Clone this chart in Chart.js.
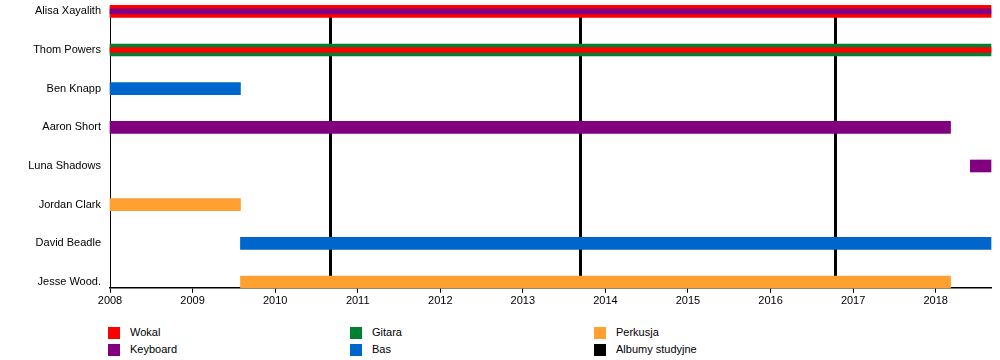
<!DOCTYPE html>
<html>
<head>
<meta charset="utf-8">
<script src="https://cdn.jsdelivr.net/npm/chart.js@4"></script>
<style>
  body { margin:0; background:#fff; font-family:"Liberation Sans", Arial, sans-serif; }
  #wrap { position:relative; width:1000px; height:360px; }
  #chart-box { position:absolute; left:0; top:0; width:1000px; height:310px; }
  .legend { position:absolute; font-size:11px; color:#000; }
  .legend span.sw { position:absolute; left:0; top:0; width:12px; height:12px; }
  .legend span.tx { position:absolute; left:22px; top:-1px; white-space:nowrap; }
</style>
</head>
<body>
<div id="wrap">
  <div id="chart-box"><canvas id="timeline"></canvas></div>
  <div id="legend"></div>
</div>
<script>
// members, top to bottom
const members = ['Alisa Xayalith','Thom Powers','Ben Knapp','Aaron Short','Luna Shadows','Jordan Clark','David Beadle','Jesse Wood.'];
const years = [2008,2009,2010,2011,2012,2013,2014,2015,2016,2017,2018];
const start = 2008, end = 2018.67;

// role spans as [member, from, to]
const wokal    = [['Alisa Xayalith', start, end]];
const gitara   = [['Thom Powers', start, end]];
const wokalTP  = [['Thom Powers', start, end]];
const keyboard = [['Aaron Short', start, 2018.18], ['Luna Shadows', 2018.42, end]];
const keyAX    = [['Alisa Xayalith', start, end]];
const bas      = [['Ben Knapp', start, 2009.58], ['David Beadle', 2009.58, end]];
const perkusja = [['Jordan Clark', start, 2009.58], ['Jesse Wood.', 2009.58, 2018.18]];
const albums   = [2010.67, 2013.69, 2016.78];

const roleLabels = ['Wokal','Gitara','Perkusja','Keyboard','Bas','Albumy studyjne'];
const roleColors = ['#ff0000','#008033','#ffa030','#800080','#0066cc','#000000'];

function spans(list){
  return list.map(s => ({ y: members.indexOf(s[0]), x: [s[1], s[2]] }));
}
function ds(label, list, color, thick, order){
  return { label, data: spans(list), backgroundColor: color, barThickness: thick,
           grouped: false, order, borderWidth: 0, clip: false };
}

const albumLines = {
  id: 'albumLines',
  beforeDatasetsDraw(chart){
    const {ctx, chartArea, scales} = chart;
    ctx.save();
    ctx.strokeStyle = '#000';
    ctx.lineWidth = 3;
    albums.forEach(a => {
      const x = Math.round(scales.x.getPixelForValue(a)) + 0.5;
      ctx.beginPath();
      ctx.moveTo(x, chartArea.top);
      ctx.lineTo(x, chartArea.bottom);
      ctx.stroke();
    });
    ctx.restore();
  }
};

new Chart(document.getElementById('timeline'), {
  type: 'bar',
  data: {
    datasets: [
      ds('Wokal', wokal, roleColors[0], 12, 3),
      ds('Gitara', gitara, roleColors[1], 12, 3),
      ds('Keyboard', keyboard, roleColors[3], 12, 3),
      ds('Bas', bas, roleColors[4], 12, 3),
      ds('Perkusja', perkusja, roleColors[2], 12, 3),
      ds('Keyboard2', keyAX, roleColors[3], 5, 1),
      ds('Wokal2', wokalTP, roleColors[0], 5, 1)
    ]
  },
  plugins: [albumLines],
  options: {
    indexAxis: 'y',
    responsive: true,
    maintainAspectRatio: false,
    animation: false,
    layout: { padding: { right: 9, top: 0 } },
    plugins: { legend: { display: false }, tooltip: { enabled: false } },
    scales: {
      x: {
        type: 'linear', min: start, max: end,
        afterBuildTicks: s => { s.ticks = years.map(v => ({ value: v })); },
        grid: { drawOnChartArea: false, color: '#000', tickLength: 5, lineWidth: 1 },
        border: { color: '#000', width: 1.5 },
        ticks: { color: '#000', font: { family: 'Liberation Sans', size: 11 }, padding: 2,
                 callback: v => String(v), maxRotation: 0 }
      },
      y: {
        type: 'linear', reverse: true, offset: false, min: -0.15, max: 7.15,
        afterBuildTicks: s => { s.ticks = members.map((_, i) => ({ value: i })); },
        afterFit: s => { s.width = 110; },
        grid: { display: false, drawTicks: true, tickLength: 9 },
        border: { color: '#000', width: 1 },
        ticks: { color: '#000', font: { family: 'Liberation Sans', size: 11, lineHeight: 1 }, padding: 0,
                 callback: v => members[v] }
      }
    }
  }
});

// legend, three columns of two rows
const legend = document.getElementById('legend');
const colX = [108, 350, 594], rowY = [327, 344];
roleLabels.forEach((lbl, i) => {
  const d = document.createElement('div');
  d.className = 'legend';
  d.style.left = colX[i % 3] + 'px';
  d.style.top = rowY[Math.floor(i / 3)] + 'px';
  d.innerHTML = '<span class="sw" style="background:' + roleColors[i] + '"></span><span class="tx">' + lbl + '</span>';
  legend.appendChild(d);
});
</script>
</body>
</html>
